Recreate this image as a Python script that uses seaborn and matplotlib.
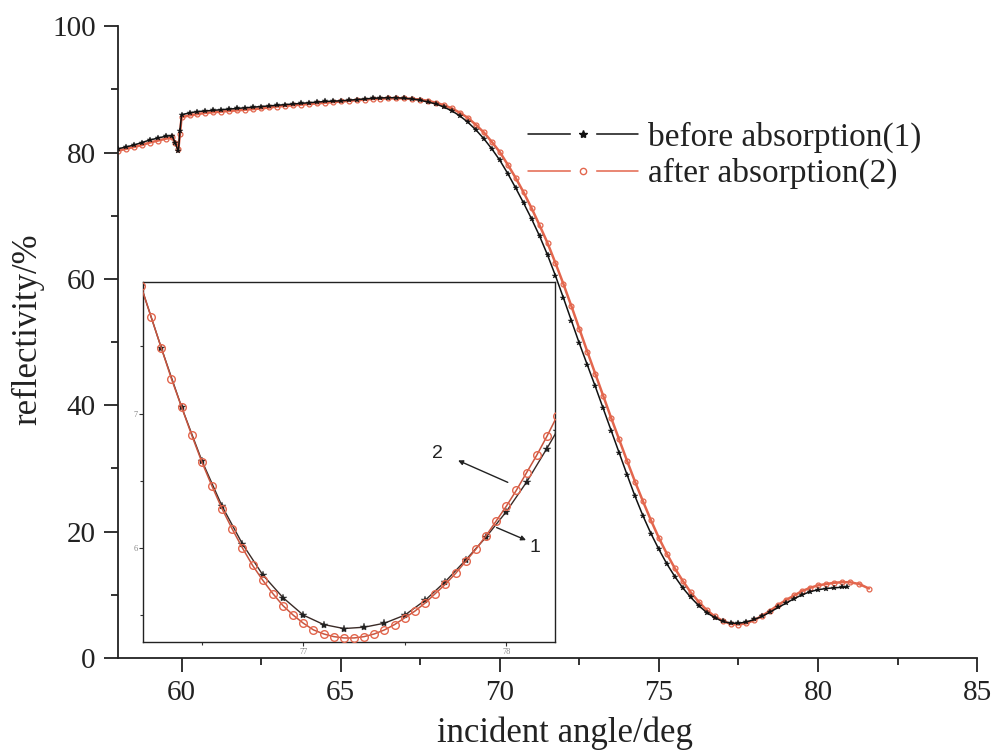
import numpy as np
import pandas as pd
import seaborn as sns
from matplotlib import pyplot as plt
from matplotlib.ticker import MultipleLocator
from matplotlib.lines import Line2D
from matplotlib.legend_handler import HandlerTuple

# main curves (incident angle in deg, reflectivity in %)
angle_before = [58.0, 58.25, 58.5, 58.75, 59.0, 59.25, 59.5, 59.7, 59.8, 59.9, 59.95,
                60.0, 60.25, 60.5, 60.75, 61.0, 61.25, 61.5, 61.75, 62.0, 62.25, 62.5,
                62.75, 63.0, 63.25, 63.5, 63.75, 64.0, 64.25, 64.5, 64.75, 65.0, 65.25,
                65.5, 65.75, 66.0, 66.25, 66.5, 66.75, 67.0, 67.25, 67.5, 67.75, 68.0,
                68.25, 68.5, 68.75, 69.0, 69.25, 69.5, 69.75, 70.0, 70.25, 70.5, 70.75,
                71.0, 71.25, 71.5, 71.75, 72.0, 72.25, 72.5, 72.75, 73.0, 73.25, 73.5,
                73.75, 74.0, 74.25, 74.5, 74.75, 75.0, 75.25, 75.5, 75.75, 76.0, 76.25,
                76.5, 76.75, 77.0, 77.25, 77.5, 77.75, 78.0, 78.25, 78.5, 78.75, 79.0,
                79.25, 79.5, 79.75, 80.0, 80.25, 80.5, 80.75, 80.9]
refl_before = [80.6, 80.9, 81.2, 81.6, 82.0, 82.3, 82.6, 82.7, 81.5, 80.2, 83.5,
               86.0, 86.3, 86.5, 86.6, 86.7, 86.8, 86.9, 87.0, 87.1, 87.2, 87.3,
               87.4, 87.5, 87.6, 87.7, 87.8, 87.9, 88.0, 88.1, 88.15, 88.2, 88.3,
               88.4, 88.5, 88.6, 88.65, 88.7, 88.7, 88.6, 88.5, 88.3, 88.0, 87.7,
               87.2, 86.6, 85.8, 84.8, 83.6, 82.2, 80.6, 78.8, 76.7, 74.4, 72.0,
               69.5, 66.8, 63.8, 60.5, 57.0, 53.4, 49.8, 46.4, 43.0, 39.5, 36.0,
               32.5, 29.0, 25.6, 22.5, 19.7, 17.2, 14.9, 12.9, 11.1, 9.6, 8.3,
               7.2, 6.4, 5.8, 5.5, 5.5, 5.7, 6.1, 6.6, 7.3, 8.0, 8.7,
               9.4, 10.0, 10.5, 10.8, 11.0, 11.1, 11.2, 11.2]

angle_after = [58.0, 58.25, 58.5, 58.75, 59.0, 59.25, 59.5, 59.7, 59.8, 59.9, 59.95,
               60.0, 60.25, 60.5, 60.75, 61.0, 61.25, 61.5, 61.75, 62.0, 62.25, 62.5,
               62.75, 63.0, 63.25, 63.5, 63.75, 64.0, 64.25, 64.5, 64.75, 65.0, 65.25,
               65.5, 65.75, 66.0, 66.25, 66.5, 66.75, 67.0, 67.25, 67.5, 67.75, 68.0,
               68.25, 68.5, 68.75, 69.0, 69.25, 69.5, 69.75, 70.0, 70.25, 70.5, 70.75,
               71.0, 71.25, 71.5, 71.75, 72.0, 72.25, 72.5, 72.75, 73.0, 73.25, 73.5,
               73.75, 74.0, 74.25, 74.5, 74.75, 75.0, 75.25, 75.5, 75.75, 76.0, 76.25,
               76.5, 76.75, 77.0, 77.25, 77.5, 77.75, 78.0, 78.25, 78.5, 78.75, 79.0,
               79.25, 79.5, 79.75, 80.0, 80.25, 80.5, 80.75, 81.0, 81.3, 81.6]
refl_after = [80.3, 80.6, 80.9, 81.2, 81.6, 81.9, 82.2, 82.4, 81.6, 80.6, 83.0,
              85.6, 85.9, 86.1, 86.3, 86.4, 86.5, 86.6, 86.7, 86.8, 86.9, 87.0,
              87.15, 87.3, 87.4, 87.5, 87.6, 87.7, 87.8, 87.9, 88.0, 88.1, 88.2,
              88.3, 88.4, 88.5, 88.55, 88.6, 88.6, 88.6, 88.5, 88.4, 88.2, 87.9,
              87.5, 87.0, 86.3, 85.5, 84.4, 83.2, 81.7, 80.1, 78.1, 76.0, 73.7,
              71.2, 68.5, 65.7, 62.5, 59.2, 55.7, 52.1, 48.5, 45.0, 41.5, 38.0,
              34.6, 31.2, 27.9, 24.8, 21.8, 19.0, 16.5, 14.2, 12.2, 10.4, 8.9,
              7.6, 6.6, 5.9, 5.4, 5.3, 5.5, 6.0, 6.7, 7.5, 8.4, 9.2,
              9.9, 10.6, 11.1, 11.5, 11.7, 11.9, 12.0, 12.0, 11.7, 11.0]

# inset (zoom on the minimum)
inset_angle_after = [76.20, 76.25, 76.30, 76.35, 76.40, 76.45, 76.50, 76.55, 76.60,
                     76.65, 76.70, 76.75, 76.80, 76.85, 76.90, 76.95, 77.00, 77.05,
                     77.10, 77.15, 77.20, 77.25, 77.30, 77.35, 77.40, 77.45, 77.50,
                     77.55, 77.60, 77.65, 77.70, 77.75, 77.80, 77.85, 77.90, 77.95,
                     78.00, 78.05, 78.10, 78.15, 78.20, 78.25]
inset_refl_after = [7.95, 7.72, 7.49, 7.26, 7.05, 6.84, 6.64, 6.46, 6.29,
                    6.14, 6.00, 5.87, 5.76, 5.66, 5.57, 5.50, 5.44, 5.39,
                    5.36, 5.34, 5.33, 5.33, 5.34, 5.36, 5.39, 5.43, 5.48,
                    5.53, 5.59, 5.66, 5.73, 5.81, 5.90, 5.99, 6.09, 6.20,
                    6.31, 6.43, 6.56, 6.69, 6.83, 6.98]
inset_angle_before = [76.2, 76.3, 76.4, 76.5, 76.6, 76.7, 76.8, 76.9, 77.0, 77.1, 77.2,
                      77.3, 77.4, 77.5, 77.6, 77.7, 77.8, 77.9, 78.0, 78.1, 78.2, 78.25]
inset_refl_before = [7.95, 7.49, 7.05, 6.65, 6.31, 6.03, 5.80, 5.63, 5.50, 5.43, 5.40,
                     5.41, 5.44, 5.50, 5.61, 5.75, 5.91, 6.08, 6.27, 6.49, 6.74, 6.87]

labels = ["before absorption(1)", "after absorption(2)"]

BLACK = "#111111"
ORANGE = "#e3664d"
TXT = "#222222"

sns.set_style("ticks")
plt.rcParams['font.family'] = ['Liberation Serif', 'DejaVu Serif']

fig = plt.figure(figsize=(9.91, 7.52), dpi=100)
ax = fig.add_axes([0.119, 0.125, 0.867, 0.840])

df_b = pd.DataFrame({"angle": angle_before, "refl": refl_before})
df_a = pd.DataFrame({"angle": angle_after, "refl": refl_after})

sns.lineplot(data=df_a, x="angle", y="refl", ax=ax, sort=False, color=ORANGE, lw=1.8,
             marker="o", ms=3.5, mfc="none", mec=ORANGE, mew=0.9, zorder=2)
sns.lineplot(data=df_b, x="angle", y="refl", ax=ax, sort=False, color=BLACK, lw=1.1,
             marker="*", ms=4, mfc=BLACK, mec=BLACK, mew=0.3, zorder=3)

ax.set_xlim(58, 85)
ax.set_ylim(0, 100)
ax.xaxis.set_major_locator(MultipleLocator(5))
ax.xaxis.set_minor_locator(MultipleLocator(2.5))
ax.yaxis.set_major_locator(MultipleLocator(20))
ax.yaxis.set_minor_locator(MultipleLocator(10))
ax.tick_params(which="major", direction="out", length=10, width=1.3, colors=TXT,
               labelsize=21, pad=6)
ax.tick_params(which="minor", direction="out", length=5, width=1.3, colors=TXT)
sns.despine(ax=ax)
for s in ["left", "bottom"]:
    ax.spines[s].set_linewidth(1.3)
    ax.spines[s].set_color(TXT)
ax.set_xlabel("incident angle/deg", fontsize=25, color=TXT)
ax.set_ylabel("reflectivity/%", fontsize=25, color=TXT)
ax.xaxis.set_label_coords(0.52, -0.093)
ax.yaxis.set_label_coords(-0.086, 0.52)

# legend: line broken around the marker
def legend_handle(color, marker, ms, filled):
    gap = Line2D([], [], color=color, lw=1.1, marker="s", ms=17, mfc="white", mec="white")
    mk = Line2D([], [], ls="none", marker=marker, ms=ms, color=color,
                mfc=color if filled else "none", mec=color, mew=1.0)
    return (gap, mk)

handles = [legend_handle(BLACK, "*", 6, True), legend_handle(ORANGE, "o", 4.5, False)]
fig.legend(handles, labels, loc="upper left", bbox_to_anchor=(0.533, 0.838),
           frameon=False, fontsize=24, handlelength=3.3, handletextpad=0.3,
           labelspacing=0.15, borderpad=0, borderaxespad=0, numpoints=1,
           labelcolor=TXT, handler_map={tuple: HandlerTuple(ndivide=1, pad=0)})

# inset
axin = fig.add_axes([0.1443, 0.1463, 0.4157, 0.4787])
axin.set_facecolor("white")
df_ia = pd.DataFrame({"angle": inset_angle_after, "refl": inset_refl_after})
df_ib = pd.DataFrame({"angle": inset_angle_before, "refl": inset_refl_before})
sns.lineplot(data=df_ib, x="angle", y="refl", ax=axin, sort=False, color="#3a2a26", lw=1.0,
             marker="*", ms=6, mfc=TXT, mec=TXT, mew=0.3, zorder=2)
sns.lineplot(data=df_ia, x="angle", y="refl", ax=axin, sort=False, color="#c8553f", lw=1.1,
             marker="o", ms=5.5, mfc="none", mec=ORANGE, mew=1.0, zorder=3)
axin.set_xlim(76.21, 78.24)
axin.set_ylim(5.30, 7.98)
axin.xaxis.set_major_locator(MultipleLocator(1))
axin.xaxis.set_minor_locator(MultipleLocator(0.5))
axin.yaxis.set_major_locator(MultipleLocator(1))
axin.yaxis.set_minor_locator(MultipleLocator(0.5))
axin.tick_params(which="major", direction="out", length=3, width=0.8, labelsize=6,
                 colors="#333333", labelcolor="#888888", pad=1)
axin.tick_params(which="minor", direction="out", length=2, width=0.8, colors="#333333")
axin.set_xlabel("")
axin.set_ylabel("")
for s in axin.spines.values():
    s.set_linewidth(1.0)
    s.set_color(TXT)

# labels with arrows in the inset
arrow_kw = dict(arrowstyle="-|>", color=TXT, lw=1.0, mutation_scale=7)
axin.annotate("", xy=(77.75, 6.66), xytext=(78.02, 6.48), arrowprops=arrow_kw)
axin.annotate("", xy=(78.11, 6.05), xytext=(77.94, 6.16), arrowprops=arrow_kw)
axin.text(77.66, 6.70, "2", fontsize=14, family=["Liberation Sans", "DejaVu Sans"],
          color=TXT, ha="center", va="center")
axin.text(78.14, 6.00, "1", fontsize=14, family=["Liberation Sans", "DejaVu Sans"],
          color=TXT, ha="center", va="center")

fig.savefig("out.png", dpi=100)
